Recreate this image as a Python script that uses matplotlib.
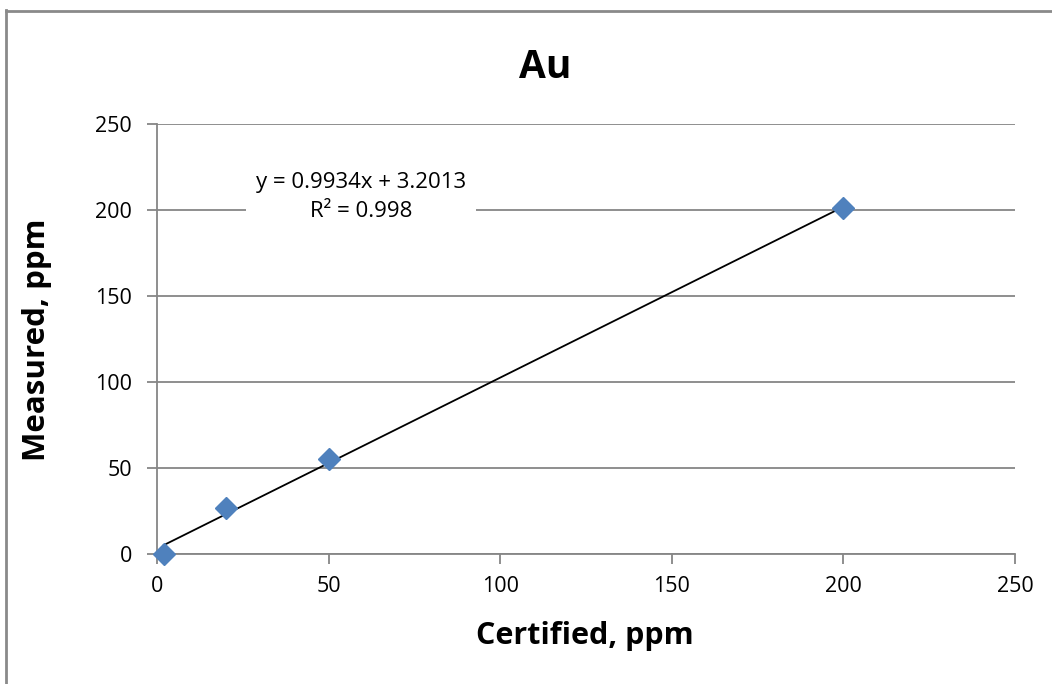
import matplotlib
matplotlib.use("Agg")
import matplotlib.pyplot as plt
import numpy as np
from matplotlib.lines import Line2D

plt.rcParams['font.family'] = ['Open Sans', 'DejaVu Sans']

certified = [2, 20, 50, 200]
measured = [0, 27, 55, 201]
slope = 0.9934
intercept = 3.2013
r2 = 0.998
x_ticks = [0, 50, 100, 150, 200, 250]
y_ticks = [0, 50, 100, 150, 200, 250]

W, H = 1052, 684
fig = plt.figure(figsize=(W/100, H/100), dpi=100)
ax = fig.add_axes([157/W, 1-554/H, (1015-157)/W, (554-124)/H])

grid_c = '#868686'
ax.set_xlim(0, 250)
ax.set_ylim(0, 250)
ax.set_xticks(x_ticks)
ax.set_yticks(y_ticks)
ax.yaxis.grid(True, color=grid_c, linewidth=1.3)
ax.set_axisbelow(True)
for s in ['top', 'right']:
    ax.spines[s].set_visible(False)
for s in ['left', 'bottom']:
    ax.spines[s].set_color(grid_c)
    ax.spines[s].set_linewidth(1.3)
ax.tick_params(axis='both', colors=grid_c, length=7, width=1.3, labelcolor='black', labelsize=15.5)
ax.tick_params(axis='x', pad=9)
ax.tick_params(axis='y', pad=11)

xl = np.array([min(certified), max(certified)])
ax.plot(xl, slope*xl + intercept, color='black', linewidth=1.3, zorder=3)
ax.plot(certified, measured, linestyle='none', marker='D', markersize=11,
        color='#4F81BD', markeredgecolor='#4F81BD', zorder=4, clip_on=False)

ax.text(59.5, 207.5, f"y = {slope}x + {intercept}\nR² = {r2}", ha='center', va='center',
        fontsize=16, linespacing=1.5,
        bbox=dict(facecolor='white', edgecolor='none', pad=7), zorder=5)

fig.text(545/W, 1-68/H, 'Au', ha='center', va='center', fontsize=28, fontweight='bold')
fig.text(585/W, 1-636/H, 'Certified, ppm', ha='center', va='center', fontsize=22, fontweight='bold')
fig.text(37/W, 1-340/H, 'Measured, ppm', ha='center', va='center', fontsize=22.5, fontweight='bold', rotation=90)

# chart border
fig.add_artist(Line2D([6/W, 6/W], [0, 1-10/H], color='#8a8a8a', linewidth=2, transform=fig.transFigure))
fig.add_artist(Line2D([6/W, 1], [1-11/H, 1-11/H], color='#8a8a8a', linewidth=2, transform=fig.transFigure))

fig.savefig('out.png', dpi=100)
